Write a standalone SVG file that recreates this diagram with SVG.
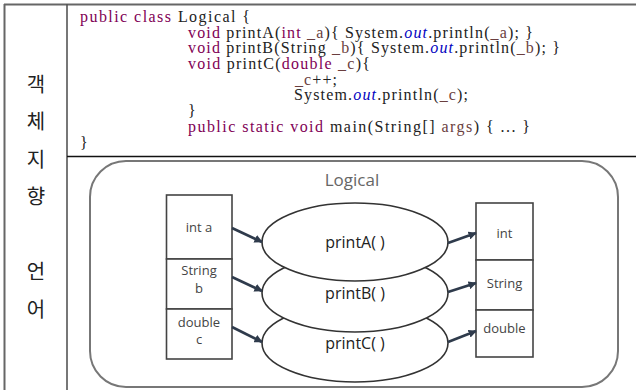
<svg xmlns="http://www.w3.org/2000/svg" width="636" height="390" viewBox="0 0 636 390">
<defs>
<style>
.code{font-family:"Liberation Serif","Times New Roman",serif;font-size:16px;fill:#222;}
.kw{fill:#7F0055;}
.pr{fill:#6A3E3E;}
.out{fill:#0000C0;font-style:italic;}
.kr{font-family:"Noto Sans CJK KR",sans-serif;font-size:20px;fill:#222;text-anchor:middle;font-weight:400;}
.lbl{font-family:"Open Sans","Noto Sans",sans-serif;font-size:13px;fill:#444;text-anchor:middle;}
.mth{font-family:"Open Sans","Noto Sans",sans-serif;font-size:16px;fill:#222;text-anchor:middle;}
.box{fill:#fff;stroke:#444;stroke-width:1.6;}
.ell{fill:#fff;stroke:#333;stroke-width:1.6;}
.arr{stroke:#2F3B4C;stroke-width:2.6;fill:none;marker-end:url(#ah);}
</style>
<marker id="ah" viewBox="0 0 10 10" refX="9" refY="5" markerWidth="3.2" markerHeight="3.2" orient="auto" markerUnits="strokeWidth">
<path d="M0,0 L10,5 L0,10 z" fill="#2F3B4C"/>
</marker>
</defs>
<rect width="636" height="390" fill="#fff"/>
<g id="table">
<line x1="4" y1="4.5" x2="636" y2="4.5" stroke="#666" stroke-width="2"/>
<line x1="4.5" y1="4" x2="4.5" y2="390" stroke="#666" stroke-width="2"/>
<line x1="67" y1="4" x2="67" y2="390" stroke="#555" stroke-width="1.6"/>
<line x1="67" y1="156.5" x2="636" y2="156.5" stroke="#111" stroke-width="1.5"/>
</g>
<g id="side-label">
<text class="kr" x="36" y="92">객</text>
<text class="kr" x="36" y="129">체</text>
<text class="kr" x="36" y="167">지</text>
<text class="kr" x="36" y="204">향</text>
<text class="kr" x="36" y="279">언</text>
<text class="kr" x="36" y="317">어</text>
</g>
<g id="code">
<text class="code" x="80" y="22" textLength="170" lengthAdjust="spacing"><tspan class="kw">public</tspan> <tspan class="kw">class</tspan> Logical {</text>
<text class="code" x="188" y="37.5" textLength="345" lengthAdjust="spacing"><tspan class="kw">void</tspan> printA(<tspan class="kw">int</tspan> <tspan class="pr">_a</tspan>){ System.<tspan class="out">out</tspan>.println(<tspan class="pr">_a</tspan>); }</text>
<text class="code" x="188" y="53" textLength="372" lengthAdjust="spacing"><tspan class="kw">void</tspan> printB(String <tspan class="pr">_b</tspan>){ System.<tspan class="out">out</tspan>.println(<tspan class="pr">_b</tspan>); }</text>
<text class="code" x="188" y="69" textLength="182" lengthAdjust="spacing"><tspan class="kw">void</tspan> printC(<tspan class="kw">double</tspan> <tspan class="pr">_c</tspan>){</text>
<text class="code" x="295" y="84.5" textLength="42" lengthAdjust="spacing"><tspan class="pr">_c</tspan>++;</text>
<text class="code" x="294" y="100" textLength="174" lengthAdjust="spacing">System.<tspan class="out">out</tspan>.println(<tspan class="pr">_c</tspan>);</text>
<text class="code" x="188" y="116">}</text>
<text class="code" x="188" y="132" textLength="342" lengthAdjust="spacing"><tspan class="kw">public</tspan> <tspan class="kw">static</tspan> <tspan class="kw">void</tspan> main(String[] <tspan class="pr">args</tspan>) { ... }</text>
<text class="code" x="80" y="148">}</text>
</g>
<g id="logical">
<rect x="90" y="161" width="528" height="226" rx="36" ry="36" fill="#fff" stroke="#777" stroke-width="2"/>
<text x="352" y="186" font-family="'Open Sans','Noto Sans',sans-serif" font-size="17" fill="#666" text-anchor="middle">Logical</text>
</g>
<g id="params">
<rect class="box" x="166.5" y="195" width="65.5" height="64"/>
<rect class="box" x="166.5" y="259" width="65.5" height="50"/>
<rect class="box" x="166.5" y="309" width="65.5" height="50"/>
<text class="lbl" x="199" y="232">int a</text>
<text class="lbl" x="199" y="275">String</text>
<text class="lbl" x="199" y="293">b</text>
<text class="lbl" x="199" y="327">double</text>
<text class="lbl" x="199" y="344">c</text>
</g>
<g id="printC">
<ellipse class="ell" cx="355" cy="343" rx="93" ry="39"/>
<text class="mth" x="355" y="349">printC( )</text>
</g>
<g id="printB">
<ellipse class="ell" cx="355" cy="293" rx="93" ry="39"/>
<text class="mth" x="355" y="299">printB( )</text>
</g>
<g id="printA">
<ellipse class="ell" cx="355" cy="242" rx="93" ry="39"/>
<text class="mth" x="355" y="248">printA( )</text>
</g>
<g id="returns">
<rect class="box" x="476" y="203" width="57" height="57"/>
<rect class="box" x="476" y="260" width="57" height="50"/>
<rect class="box" x="476" y="310" width="57" height="47"/>
<text class="lbl" x="504.5" y="238">int</text>
<text class="lbl" x="504.5" y="288">String</text>
<text class="lbl" x="504.5" y="333" font-size="12">double</text>
</g>
<g id="connectors">
<line class="arr" x1="232" y1="228" x2="262" y2="242"/>
<line class="arr" x1="232" y1="277" x2="262" y2="291"/>
<line class="arr" x1="232" y1="327" x2="262" y2="342"/>
<line class="arr" x1="448" y1="243" x2="476" y2="233"/>
<line class="arr" x1="448" y1="292" x2="476" y2="283"/>
<line class="arr" x1="448" y1="342" x2="476" y2="331"/>
</g>
</svg>
